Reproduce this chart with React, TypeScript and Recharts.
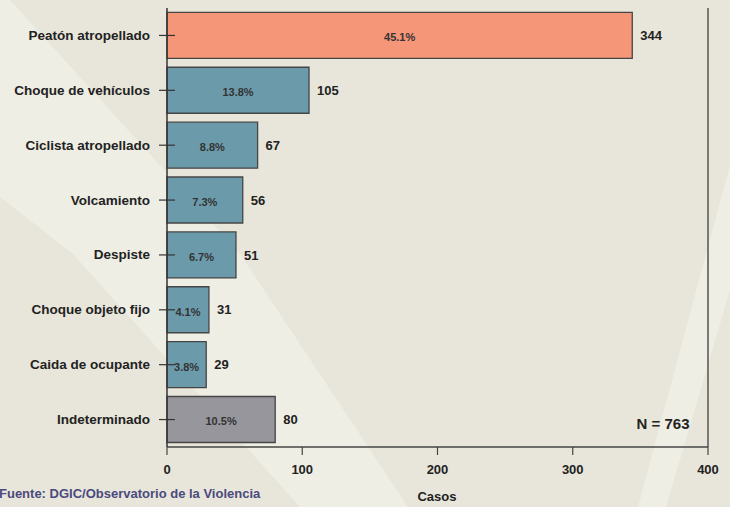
import React from "react";
import {
  BarChart,
  Bar,
  XAxis,
  YAxis,
  Cell,
  LabelList,
  ReferenceLine,
} from "recharts";

const categorias = [
  "Peatón atropellado",
  "Choque de vehículos",
  "Ciclista atropellado",
  "Volcamiento",
  "Despiste",
  "Choque objeto fijo",
  "Caida de ocupante",
  "Indeterminado",
];
const casos = [344, 105, 67, 56, 51, 31, 29, 80];
const porcentajes = ["45.1%", "13.8%", "8.8%", "7.3%", "6.7%", "4.1%", "3.8%", "10.5%"];
const ticksX = [0, 100, 200, 300, 400];

const data = categorias.map((nombre, i) => ({
  nombre,
  casos: casos[i],
  pct: porcentajes[i],
}));

const FONT = "'Liberation Sans', Arial, sans-serif";

const barColor = (i: number) => {
  if (i === 0) return "#f59678";
  if (i === categorias.length - 1) return "#96969c";
  return "#6b9bab";
};

const CategoryTick = (props: any) => {
  const { x, y, payload } = props;
  return (
    <g>
      <line x1={x + 9} x2={x + 25} y1={y} y2={y} stroke="#333" strokeWidth={1.2} />
      <text
        x={x}
        y={y}
        dy={4.5}
        textAnchor="end"
        fontFamily={FONT}
        fontWeight="bold"
        fontSize={13.5}
        fill="#222"
      >
        {payload.value}
      </text>
    </g>
  );
};

const Background = () => (
  <svg
    width={730}
    height={507}
    style={{ position: "absolute", left: 0, top: 0 }}
  >
    <rect width={730} height={507} fill="#e8e6da" />
    <polygon
      points="0,0 10,0 167,173 240,254 408,507 300,507 73,254 0,197"
      fill="#efeee4"
    />
    <polygon points="638,507 666,507 730,290 730,165" fill="#efeee4" />
  </svg>
);

export default function App() {
  return (
    <div
      style={{
        position: "fixed",
        left: 0,
        top: 0,
        width: 730,
        height: 507,
        overflow: "hidden",
        fontFamily: FONT,
      }}
    >
      <Background />
      <div style={{ position: "absolute", left: 0, top: 0 }}>
        <BarChart
          width={730}
          height={507}
          data={data}
          layout="vertical"
          margin={{ top: 8, right: 22, bottom: 0, left: 0 }}
          barCategoryGap="8%"
        >
          <XAxis
            type="number"
            domain={[0, 400]}
            ticks={ticksX}
            height={60}
            tickSize={8}
            tickMargin={10}
            axisLine={{ stroke: "#444", strokeWidth: 1.5 }}
            tickLine={{ stroke: "#444", strokeWidth: 1.2 }}
            tick={{ fill: "#222", fontSize: 13, fontWeight: "bold", fontFamily: FONT }}
          />
          <XAxis
            xAxisId="top"
            orientation="top"
            type="number"
            domain={[0, 400]}
            height={0}
            tick={false}
            tickLine={false}
            axisLine={{ stroke: "#7a7a74", strokeWidth: 1.3 }}
          />
          <YAxis
            type="category"
            dataKey="nombre"
            width={167}
            tickSize={8}
            tickMargin={9}
            tickLine={false}
            interval={0}
            axisLine={{ stroke: "#333", strokeWidth: 1.5 }}
            tick={<CategoryTick />}
          />
          <ReferenceLine x={400} stroke="#7a7a74" strokeWidth={2} />
          <Bar
            dataKey="casos"
            isAnimationActive={false}
            stroke="#454545"
            strokeWidth={1.3}
          >
            {data.map((d, i) => (
              <Cell key={d.nombre} fill={barColor(i)} />
            ))}
            <LabelList
              dataKey="casos"
              position="right"
              offset={8}
              fill="#222"
              fontSize={13}
              fontWeight="bold"
              fontFamily={FONT}
            />
            <LabelList
              dataKey="pct"
              position="center"
              dy={2}
              fill="#333"
              fontSize={11}
              fontWeight="bold"
              fontFamily={FONT}
            />
          </Bar>
        </BarChart>
      </div>
      <div
        style={{
          position: "absolute",
          left: 598,
          top: 415,
          width: 130,
          textAlign: "center",
          fontSize: 15,
          fontWeight: "bold",
          color: "#222",
          lineHeight: "18px",
        }}
      >
        N = 763
      </div>
      <div
        style={{
          position: "absolute",
          left: 387,
          top: 489,
          width: 100,
          textAlign: "center",
          fontSize: 13,
          fontWeight: "bold",
          color: "#222",
          lineHeight: "16px",
        }}
      >
        Casos
      </div>
      <div
        style={{
          position: "absolute",
          left: -1,
          top: 486,
          fontSize: 13,
          fontWeight: "bold",
          color: "#4b4a7e",
          lineHeight: "16px",
          whiteSpace: "nowrap",
        }}
      >
        Fuente: DGIC/Observatorio de la Violencia
      </div>
    </div>
  );
}
